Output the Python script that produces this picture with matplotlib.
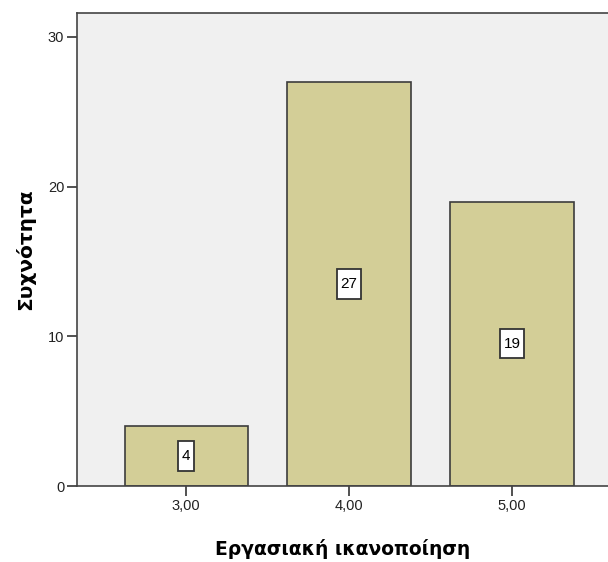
import matplotlib.pyplot as plt
from matplotlib.path import Path

plt.rcParams['font.family'] = ['Liberation Sans', 'DejaVu Sans']

categories = ['3,00', '4,00', '5,00']
counts = [4, 27, 19]
positions = [3, 4, 5]


def label_box(x0, y0, width, height, mutation_size):
    # taller than wide padding, like the SPSS value labels
    px = 0.26 * mutation_size
    py = 0.50 * mutation_size
    x0, x1 = x0 - px, x0 + width + px
    y0, y1 = y0 - py, y0 + height + py
    return Path([(x0, y0), (x1, y0), (x1, y1), (x0, y1), (x0, y0)], closed=True)


fig = plt.figure(figsize=(6.08, 5.62), dpi=100)
ax = fig.add_axes([77 / 608, 76 / 562, 531 / 608, 473 / 562])
ax.set_facecolor('#F0F0F0')

ax.bar(positions, counts, width=0.755, color='#D3CE97',
       edgecolor='#3C3C3C', linewidth=1.2, zorder=2)

for x, v in zip(positions, counts):
    ax.text(x, v / 2, str(v), ha='center', va='center', fontsize=11,
            bbox=dict(boxstyle=label_box, facecolor='white',
                      edgecolor='#333333', linewidth=1.3), zorder=3)

ax.set_xlim(2.331, 5.589)
ax.set_ylim(0, 31.6)
ax.set_xticks(positions)
ax.set_xticklabels(categories)
ax.set_yticks([0, 10, 20, 30])
ax.tick_params(direction='out', length=7.2, width=1.2, color='#333333',
               labelsize=10.5, pad=2, labelcolor='#222222')

for s in ['left', 'bottom', 'top']:
    ax.spines[s].set_color('#444444')
    ax.spines[s].set_linewidth(1.2)
ax.spines['right'].set_visible(False)

ax.set_xlabel('Εργασιακή ικανοποίηση', fontsize=13.5, fontweight='bold',
              family='DejaVu Sans', labelpad=19)
ax.set_ylabel('Συχνότητα', fontsize=14.5, fontweight='bold',
              family='DejaVu Sans', labelpad=9)

plt.savefig('out.png', dpi=100)
